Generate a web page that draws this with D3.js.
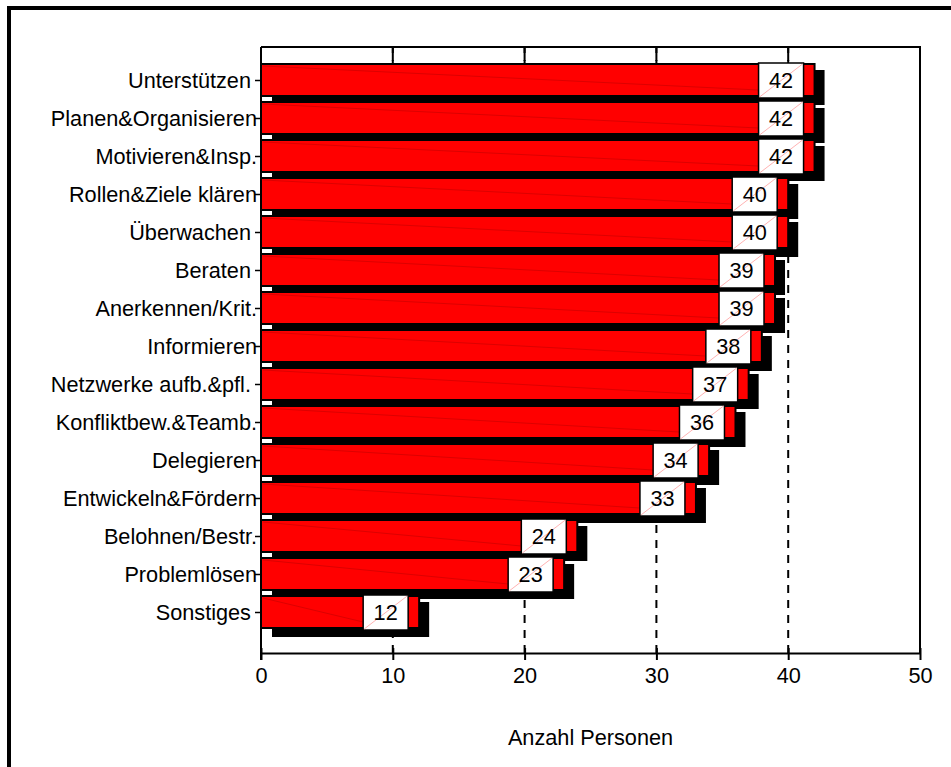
<!DOCTYPE html>
<html>
<head>
<meta charset="utf-8">
<script src="https://cdn.jsdelivr.net/npm/d3@7"></script>
<style>
  html, body { margin: 0; padding: 0; background: #fff; }
  svg { display: block; font-family: "Liberation Sans", Arial, Helvetica, sans-serif; }
  text { white-space: pre; }
</style>
</head>
<body>
<svg id="chart" width="951" height="767"></svg>
<script>
// Führungsaufgaben: Anzahl Personen je Kategorie
const categories = [
  "Unterstützen ",
  "Planen&Organisieren",
  "Motivieren&Insp.",
  "Rollen&Ziele klären",
  "Überwachen ",
  "Beraten ",
  "Anerkennen/Krit.",
  "Informieren",
  "Netzwerke aufb.&pfl. ",
  "Konfliktbew.&Teamb.",
  "Delegieren",
  "Entwickeln&Fördern",
  "Belohnen/Bestr.",
  "Problemlösen",
  "Sonstiges "
];
const values = [42, 42, 42, 40, 40, 39, 39, 38, 37, 36, 34, 33, 24, 23, 12];
const xTicks = [0, 10, 20, 30, 40, 50];
const gridTicks = [10, 20, 30, 40];
const xTitle = "Anzahl Personen";

const data = categories.map((c, i) => ({ cat: c, value: values[i] }));

const svg = d3.select("#chart");
const plot = { left: 261, right: 920, top: 47, bottom: 653 };
const fontSize = 21.7;

const x = d3.scaleLinear().domain([0, 50]).range([plot.left, plot.right]);
const y = d3.scalePoint().domain(categories).range([80, 612]);

const barHalf = 16;          // half bar height
const shadowDx = 10;         // 3D shadow offset
const boxW = 45;

// outer frame
svg.append("rect")
  .attr("x", 9).attr("y", 8)
  .attr("width", 1200).attr("height", 1200)
  .attr("fill", "none").attr("stroke", "#000").attr("stroke-width", 4);

// dashed grid lines
svg.append("g").selectAll("line")
  .data(gridTicks).join("line")
  .attr("x1", d => x(d)).attr("x2", d => x(d))
  .attr("y1", plot.bottom).attr("y2", plot.top)
  .attr("stroke", "#000").attr("stroke-width", 2)
  .attr("stroke-dasharray", "8,7");

// inward ticks on the top frame
svg.append("g").selectAll("line")
  .data(gridTicks).join("line")
  .attr("x1", d => x(d)).attr("x2", d => x(d))
  .attr("y1", plot.top).attr("y2", plot.top + 14)
  .attr("stroke", "#000").attr("stroke-width", 2);

// shadows
svg.append("g").selectAll("rect")
  .data(data).join("rect")
  .attr("x", x(0) + shadowDx + 1)
  .attr("y", d => y(d.cat) - barHalf + 6)
  .attr("width", d => x(d.value) - x(0) - 1)
  .attr("height", 2 * barHalf + 3)
  .attr("fill", "#000");

// bars
const bars = svg.append("g");
bars.selectAll("rect")
  .data(data).join("rect")
  .attr("x", x(0))
  .attr("y", d => y(d.cat) - barHalf)
  .attr("width", d => x(d.value) - x(0))
  .attr("height", 2 * barHalf)
  .attr("fill", "#ff0000")
  .attr("stroke", "#000").attr("stroke-width", 2);

// faint seam lines inside the bars
bars.selectAll("line")
  .data(data).join("line")
  .attr("x1", x(0) + 2).attr("y1", d => y(d.cat) - barHalf + 2)
  .attr("x2", d => x(d.value) - 11 - boxW).attr("y2", d => y(d.cat) + barHalf - 6)
  .attr("stroke", "#a00000").attr("stroke-width", 0.6).attr("opacity", 0.6);

// value boxes
const boxes = svg.append("g").selectAll("g")
  .data(data).join("g")
  .attr("transform", d => `translate(${x(d.value) - 11 - boxW},${y(d.cat) - barHalf - 1})`);
boxes.append("rect")
  .attr("width", boxW).attr("height", 2 * barHalf + 3)
  .attr("fill", "#fff").attr("stroke", "#000").attr("stroke-width", 1.5);
boxes.append("line")
  .attr("x1", 1).attr("y1", 2 * barHalf + 2)
  .attr("x2", boxW - 1).attr("y2", 1)
  .attr("stroke", "#ff9090").attr("stroke-width", 0.7);
boxes.append("text")
  .attr("x", boxW / 2).attr("y", barHalf + 9)
  .attr("text-anchor", "middle")
  .attr("font-size", fontSize)
  .text(d => d.value);

// plot frame: top and right
svg.append("path")
  .attr("d", `M${plot.left},${plot.top}H${plot.right}V${plot.bottom}`)
  .attr("fill", "none").attr("stroke", "#000").attr("stroke-width", 2);

// bottom axis
const xAxis = svg.append("g")
  .attr("transform", `translate(0,${plot.bottom})`)
  .call(d3.axisBottom(x).tickValues(xTicks).tickSizeInner(7).tickSizeOuter(0).tickPadding(8));
xAxis.select(".domain").attr("stroke-width", 2);
xAxis.selectAll(".tick line").attr("y1", -5).attr("stroke-width", 2);
xAxis.selectAll(".tick text")
  .attr("font-size", fontSize).attr("font-family", null).attr("fill", "#000");

// left axis
const yAxis = svg.append("g")
  .attr("transform", `translate(${plot.left},0)`)
  .call(d3.axisLeft(y).tickSizeInner(6).tickSizeOuter(0).tickPadding(-2));
yAxis.select(".domain").remove();
yAxis.selectAll(".tick line").attr("stroke-width", 1.5);
yAxis.selectAll(".tick text")
  .attr("font-size", fontSize).attr("font-family", null).attr("fill", "#000")
  .attr("dy", "0.33em");
svg.append("line")
  .attr("x1", plot.left).attr("x2", plot.left)
  .attr("y1", plot.top).attr("y2", plot.bottom + 7)
  .attr("stroke", "#000").attr("stroke-width", 2);

// axis title
svg.append("text")
  .attr("x", (plot.left + plot.right) / 2)
  .attr("y", 745)
  .attr("text-anchor", "middle")
  .attr("font-size", fontSize)
  .text(xTitle);
</script>
</body>
</html>
